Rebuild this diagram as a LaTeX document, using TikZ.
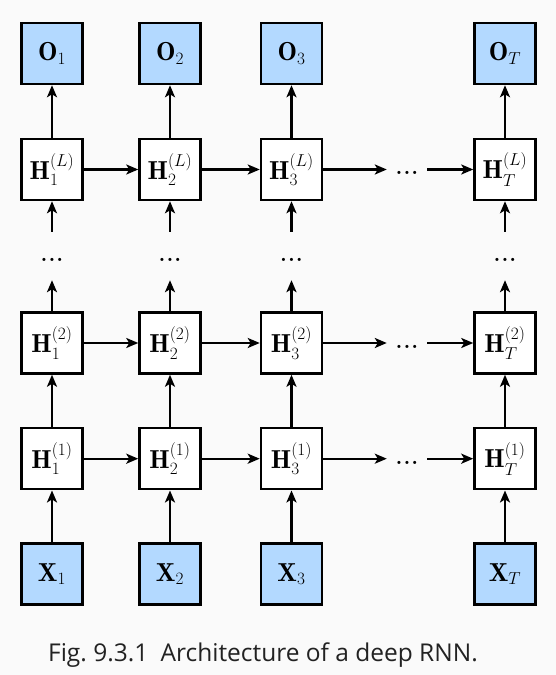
\documentclass[tikz,border=0pt]{standalone}
\usepackage{amsmath,amssymb}
\usepackage{fontspec}
\newfontfamily\capfont{Open Sans}
\usetikzlibrary{arrows.meta}

\definecolor{inblue}{RGB}{179,217,255}
\definecolor{bggray}{RGB}{250,250,250}
\definecolor{capgray}{RGB}{34,34,34}

\begin{document}
\begin{tikzpicture}[x=1pt,y=1pt,>={Stealth[length=12pt,width=10pt,inset=3pt]},
  box/.style={draw,line width=2.5pt,minimum size=61pt,inner sep=0pt,font=\fontsize{26}{28}\selectfont},
  iobox/.style={box,fill=inblue},
  hbox/.style={box,fill=white},
  gap/.style={minimum width=40pt,minimum height=48pt,inner sep=0pt,text height=11pt,text depth=0pt,font=\bfseries\fontsize{22}{24}\selectfont},
  link/.style={->,line width=2.3pt}]
  \fill[bggray] (0,0) rectangle (556,675);
  \useasboundingbox (0,0) rectangle (556,675);

  % outputs
  \node[iobox] (o1) at (52,621.5) {$\mathbf{O}_1$};
  \node[iobox] (o2) at (170,621.5) {$\mathbf{O}_2$};
  \node[iobox] (o3) at (291.5,621.5) {$\mathbf{O}_3$};
  \node[iobox] (oT) at (505,621.5) {$\mathbf{O}_T$};

  % top layer
  \node[hbox] (hL1) at (52,505.5) {$\mathbf{H}_1^{(L)}$};
  \node[hbox] (hL2) at (170,505.5) {$\mathbf{H}_2^{(L)}$};
  \node[hbox] (hL3) at (291.5,505.5) {$\mathbf{H}_3^{(L)}$};
  \node[gap]  (dL)  at (407,505.5) {.\kern1pt.\kern1pt.};
  \node[hbox] (hLT) at (505,505.5) {$\mathbf{H}_T^{(L)}$};

  % layers in between
  \node[gap] (v1) at (52,419) {.\kern1pt.\kern1pt.};
  \node[gap] (v2) at (170,419) {.\kern1pt.\kern1pt.};
  \node[gap] (v3) at (291.5,419) {.\kern1pt.\kern1pt.};
  \node[gap] (vT) at (505,419) {.\kern1pt.\kern1pt.};

  % second layer
  \node[hbox] (h21) at (52,332) {$\mathbf{H}_1^{(2)}$};
  \node[hbox] (h22) at (170,332) {$\mathbf{H}_2^{(2)}$};
  \node[hbox] (h23) at (291.5,332) {$\mathbf{H}_3^{(2)}$};
  \node[gap]  (d2)  at (407,332) {.\kern1pt.\kern1pt.};
  \node[hbox] (h2T) at (505,332) {$\mathbf{H}_T^{(2)}$};

  % first layer
  \node[hbox] (h11) at (52,216.3) {$\mathbf{H}_1^{(1)}$};
  \node[hbox] (h12) at (170,216.3) {$\mathbf{H}_2^{(1)}$};
  \node[hbox] (h13) at (291.5,216.3) {$\mathbf{H}_3^{(1)}$};
  \node[gap]  (d1)  at (407,216.3) {.\kern1pt.\kern1pt.};
  \node[hbox] (h1T) at (505,216.3) {$\mathbf{H}_T^{(1)}$};

  % inputs
  \node[iobox] (x1) at (52,101) {$\mathbf{X}_1$};
  \node[iobox] (x2) at (170,101) {$\mathbf{X}_2$};
  \node[iobox] (x3) at (291.5,101) {$\mathbf{X}_3$};
  \node[iobox] (xT) at (505,101) {$\mathbf{X}_T$};

  % time steps
  \draw[link] (hL1)--(hL2); \draw[link] (hL2)--(hL3); \draw[link] (hL3)--(dL); \draw[link] (dL)--(hLT);
  \draw[link] (h21)--(h22); \draw[link] (h22)--(h23); \draw[link] (h23)--(d2); \draw[link] (d2)--(h2T);
  \draw[link] (h11)--(h12); \draw[link] (h12)--(h13); \draw[link] (h13)--(d1); \draw[link] (d1)--(h1T);

  % depth
  \draw[link] (x1)--(h11); \draw[link] (h11)--(h21); \draw[link] (h21)--(v1); \draw[link] (v1)--(hL1); \draw[link] (hL1)--(o1);
  \draw[link] (x2)--(h12); \draw[link] (h12)--(h22); \draw[link] (h22)--(v2); \draw[link] (v2)--(hL2); \draw[link] (hL2)--(o2);
  \draw[link] (x3)--(h13); \draw[link] (h13)--(h23); \draw[link] (h23)--(v3); \draw[link] (v3)--(hL3); \draw[link] (hL3)--(o3);
  \draw[link] (xT)--(h1T); \draw[link] (h1T)--(h2T); \draw[link] (h2T)--(vT); \draw[link] (vT)--(hLT); \draw[link] (hLT)--(oT);

  \node[anchor=base,text=capgray,font=\capfont\fontsize{24.5}{28}\selectfont] (caption) at (263,13.3) {Fig.~9.3.1\enspace Architecture of a deep RNN.};
\end{tikzpicture}
\end{document}
